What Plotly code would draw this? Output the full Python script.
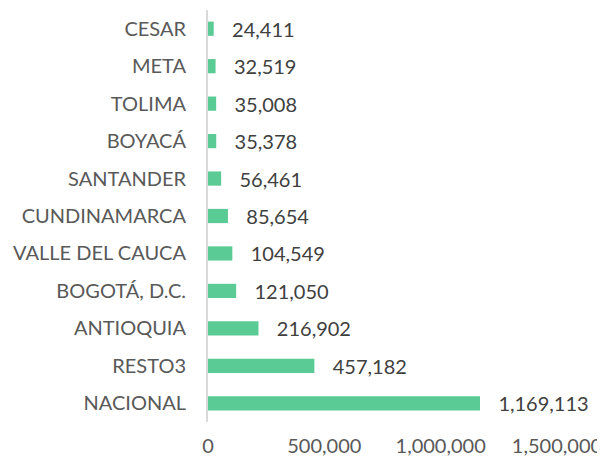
import plotly.graph_objects as go

categories = ["NACIONAL", "RESTO3", "ANTIOQUIA", "BOGOTÁ, D.C.", "VALLE DEL CAUCA",
              "CUNDINAMARCA", "SANTANDER", "BOYACÁ", "TOLIMA", "META", "CESAR"]
values = [1169113, 457182, 216902, 121050, 104549, 85654, 56461, 35378, 35008, 32519, 24411]
x_ticks = [0, 500000, 1000000, 1500000]
x_tick_labels = ["0", "500,000", "1,000,000", "1,500,000"]

FONT = "Lato, Open Sans, sans-serif"

fig = go.Figure(go.Bar(
    y=categories, x=values, orientation="h",
    marker=dict(color="#5ACB94", line=dict(width=0)),
    text=["   " + f"{v:,}" for v in values], textposition="outside",
    constraintext="none",
    textfont=dict(family=FONT, size=20, color="#404040"),
    cliponaxis=False,
))
fig.update_layout(
    width=597, height=453,
    margin=dict(l=200, r=48, t=2, b=39, autoexpand=False),
    plot_bgcolor="white", paper_bgcolor="white",
    bargap=0.62, showlegend=False,
    font=dict(family=FONT, size=20, color="#595959"),
)
fig.update_xaxes(range=[0, 1500000], tickvals=x_ticks, ticktext=x_tick_labels,
                 showgrid=False, zeroline=False, showline=False, automargin=False,
                 tickfont=dict(size=20, color="#595959"), ticklabelstandoff=10)
fig.update_yaxes(showgrid=False, showline=True, linecolor="#D9D9D9", linewidth=2,
                 ticks="", ticklabelstandoff=16, automargin=False,
                 tickfont=dict(size=20, color="#595959"))
fig.write_html("out.html")
